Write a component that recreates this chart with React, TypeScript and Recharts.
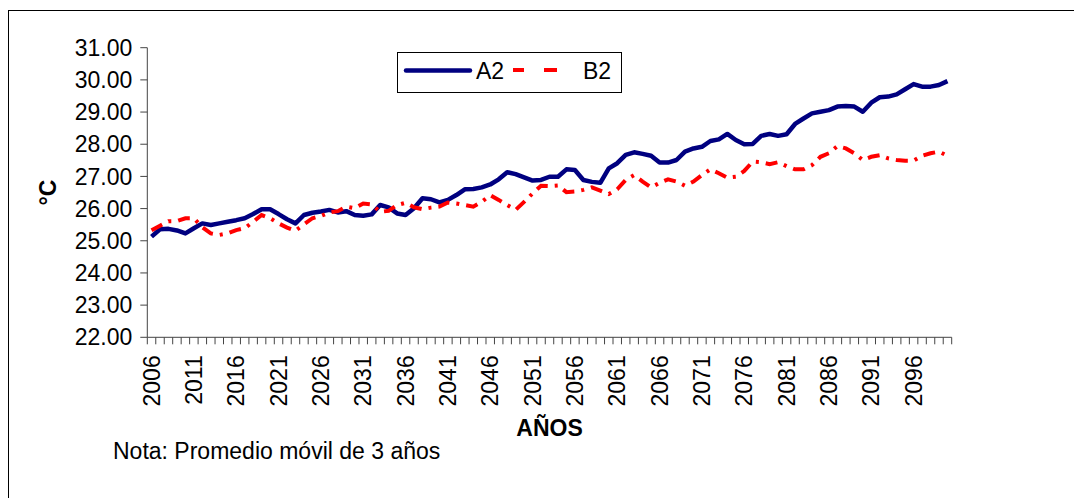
import React from 'react';
import { LineChart, Line, XAxis, YAxis } from 'recharts';

const FIRST_YEAR = 2006;

// 3-year moving average, °C
const A2 = [
  25.13, 25.36, 25.37, 25.32, 25.23, 25.39, 25.54, 25.49, 25.54, 25.59,
  25.64, 25.70, 25.83, 25.98, 25.98, 25.83, 25.67, 25.54, 25.80, 25.87,
  25.91, 25.96, 25.88, 25.92, 25.80, 25.78, 25.82, 26.11, 26.04, 25.85,
  25.80, 26.01, 26.32, 26.29, 26.19, 26.27, 26.42, 26.60, 26.61, 26.66,
  26.75, 26.91, 27.13, 27.07, 26.97, 26.87, 26.89, 26.99, 26.99, 27.22,
  27.20, 26.89, 26.83, 26.80, 27.25, 27.41, 27.67, 27.75, 27.70, 27.64,
  27.43, 27.43, 27.51, 27.77, 27.87, 27.92, 28.10, 28.15, 28.32, 28.13,
  28.00, 28.01, 28.26, 28.32, 28.26, 28.31, 28.63, 28.80, 28.96, 29.01,
  29.06, 29.17, 29.19, 29.17, 29.01, 29.29, 29.46, 29.48, 29.55, 29.71,
  29.87, 29.79, 29.79, 29.84, 29.96,
];

const B2 = [
  25.33, 25.47, 25.61, 25.61, 25.70, 25.70, 25.42, 25.23, 25.18, 25.23,
  25.33, 25.39, 25.59, 25.80, 25.70, 25.54, 25.41, 25.31, 25.51, 25.70,
  25.77, 25.88, 25.92, 26.06, 26.01, 26.16, 26.13, 25.90, 25.93, 26.11,
  26.18, 26.04, 25.98, 26.03, 26.06, 26.19, 26.16, 26.11, 26.06, 26.21,
  26.42, 26.27, 26.11, 25.96, 26.21, 26.47, 26.71, 26.70, 26.72, 26.51,
  26.53, 26.58, 26.66, 26.56, 26.45, 26.60, 26.89, 27.04, 26.84, 26.66,
  26.80, 26.91, 26.84, 26.71, 26.84, 27.04, 27.22, 27.10, 26.96, 26.99,
  27.17, 27.46, 27.44, 27.38, 27.44, 27.32, 27.22, 27.22, 27.35, 27.61,
  27.72, 27.94, 27.87, 27.72, 27.51, 27.61, 27.66, 27.56, 27.51, 27.49,
  27.49, 27.64, 27.72, 27.77, 27.64,
];

const YEAR_LABELS = [
  2006, 2011, 2016, 2021, 2026, 2031, 2036, 2041, 2046, 2051,
  2056, 2061, 2066, 2071, 2076, 2081, 2086, 2091, 2096,
];
const Y_TICKS = [22, 23, 24, 25, 26, 27, 28, 29, 30, 31];
const SERIES = ['A2', 'B2'];

const data = A2.map((a, i) => ({ year: FIRST_YEAR + i, A2: a, B2: B2[i] }));
// tick marks sit between the yearly categories, like Excel does
const tickBounds = [...data.map((d) => d.year - 0.5), data[data.length - 1].year + 0.5];

const FONT = '"Liberation Sans", Arial, sans-serif';
const CHART_W = 1060;
const CHART_H = 480;
const MARGIN = { top: 36.7, right: 117.3, bottom: 53.7, left: 38.3 };
const Y_AXIS_W = 100;
const X_AXIS_H = 100;
const PLOT_W = CHART_W - MARGIN.left - MARGIN.right - Y_AXIS_W;
const STEP = PLOT_W / data.length;

const BLUE = '#000080';
const RED = '#FF0000';
const AXIS = '#444';

const YearTick = (props: any) => {
  const { x, y, payload } = props;
  const year = Math.round(payload.value + 0.5);
  if (!YEAR_LABELS.includes(year)) return null;
  const cx = x + STEP / 2;
  return (
    <text
      x={cx}
      y={y}
      transform={`rotate(-90, ${cx}, ${y})`}
      textAnchor="end"
      dy="0.35em"
      fontSize={23}
      fontFamily={FONT}
      fill="#000"
    >
      {year}
    </text>
  );
};

const YTitle = (props: any) => {
  const { viewBox } = props;
  const cx = viewBox.x + 0.4;
  const cy = viewBox.y + viewBox.height / 2;
  return (
    <text
      x={cx}
      y={cy}
      transform={`rotate(-90, ${cx}, ${cy})`}
      textAnchor="middle"
      dy="0.36em"
      fontSize={23}
      fontWeight="bold"
      fontFamily={FONT}
      fill="#000"
    >
      °C
    </text>
  );
};

const XTitle = (props: any) => {
  const { viewBox } = props;
  return (
    <text
      x={viewBox.x + viewBox.width / 2}
      y={viewBox.y + 98.7}
      textAnchor="middle"
      fontSize={23}
      fontWeight="bold"
      fontFamily={FONT}
      fill="#000"
    >
      AÑOS
    </text>
  );
};

export default function App() {
  return (
    <div
      style={{
        position: 'relative',
        marginTop: 2,
        width: 1067,
        height: 488,
        borderTop: '1px solid #000',
        borderLeft: '1px solid #000',
        borderRight: '1px solid #000',
        background: '#fff',
        fontFamily: FONT,
      }}
    >
      <style>{'html,body{overflow:hidden}'}</style>
      <div style={{ position: 'absolute', left: 0, top: 0 }}>
        <LineChart width={CHART_W} height={CHART_H} data={data} margin={MARGIN}>
          <XAxis
            dataKey="year"
            type="number"
            domain={[tickBounds[0], tickBounds[tickBounds.length - 1]]}
            allowDataOverflow
            ticks={tickBounds}
            interval={0}
            height={X_AXIS_H}
            tickSize={7}
            tickMargin={11}
            tick={<YearTick />}
            axisLine={{ stroke: AXIS, strokeWidth: 1 }}
            tickLine={{ stroke: AXIS, strokeWidth: 1 }}
            label={{ content: <XTitle /> }}
          />
          <YAxis
            type="number"
            domain={[22, 31]}
            ticks={Y_TICKS}
            interval={0}
            width={Y_AXIS_W}
            tickSize={7}
            tickMargin={8}
            tickFormatter={(v: number) => v.toFixed(2)}
            tick={{ fontSize: 23, fill: '#000', fontFamily: FONT }}
            axisLine={{ stroke: AXIS, strokeWidth: 1 }}
            tickLine={{ stroke: AXIS, strokeWidth: 1 }}
            label={{ content: <YTitle /> }}
          />
          <Line
            dataKey="A2"
            type="linear"
            stroke={BLUE}
            strokeWidth={4.5}
            strokeLinejoin="round"
            dot={false}
            activeDot={false}
            isAnimationActive={false}
          />
          <Line
            dataKey="B2"
            type="linear"
            stroke={RED}
            strokeWidth={4}
            strokeDasharray="12 7 3 7"
            dot={false}
            activeDot={false}
            isAnimationActive={false}
          />
        </LineChart>
      </div>
      <svg
        width={1067}
        height={488}
        style={{ position: 'absolute', left: 0, top: 0, pointerEvents: 'none' }}
      >
        <rect x={388.5} y={41.5} width={224} height={40} fill="#fff" stroke="#000" strokeWidth={1} />
        <line x1={397} y1={59.5} x2={461} y2={59.5} stroke={BLUE} strokeWidth={4.5} strokeLinecap="round" />
        <text x={467} y={67.5} fontSize={23} fontFamily={FONT} fill="#000">{SERIES[0]}</text>
        <line x1={504} y1={59} x2={548} y2={59} stroke={RED} strokeWidth={4} strokeDasharray="11 20 13" />
        <text x={574} y={67.5} fontSize={23} fontFamily={FONT} fill="#000">{SERIES[1]}</text>
        <text x={104} y={448} fontSize={23} fontFamily={FONT} fill="#000">
          Nota: Promedio móvil de 3 años
        </text>
      </svg>
    </div>
  );
}
